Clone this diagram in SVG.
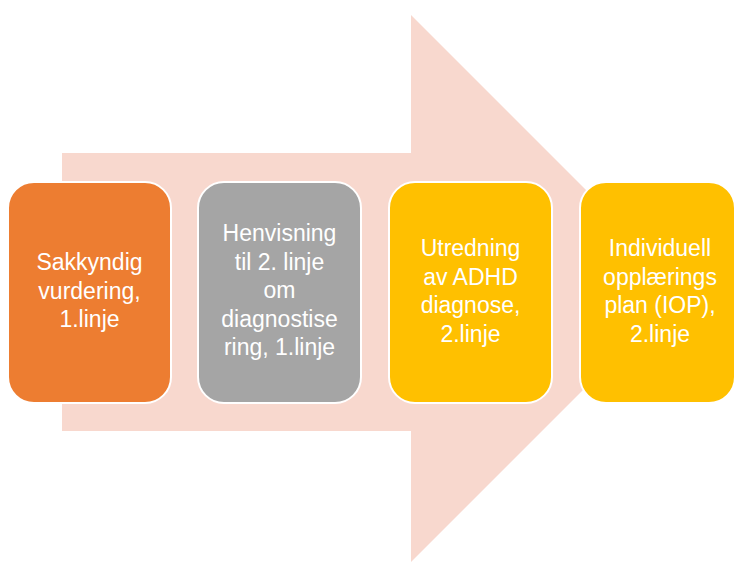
<svg xmlns="http://www.w3.org/2000/svg" width="736" height="562" viewBox="0 0 736 562">
<style>
.box{stroke:#FFFFFF;stroke-width:2}
.t{font-family:"Liberation Sans","Noto Sans",sans-serif;font-size:23px;fill:#FFFFFF;text-anchor:middle}
</style>
<rect width="736" height="562" fill="#FFFFFF"/>
<g id="connectors">
<polygon id="big-arrow" points="62,153 411,153 411,15 684.5,288.5 411,562 411,431 62,431" fill="#F8D8CE"/>
</g>
<g id="node1">
<rect class="box" x="8" y="182" width="163" height="221" rx="26" fill="#ED7D31"/>
<text class="t" x="89.5" y="270">Sakkyndig</text>
<text class="t" x="89.5" y="298.5">vurdering,</text>
<text class="t" x="89.5" y="327">1.linje</text>
</g>
<g id="node2">
<rect class="box" x="198" y="182" width="163" height="221" rx="26" fill="#A5A5A5"/>
<text class="t" x="279.5" y="241">Henvisning</text>
<text class="t" x="279.5" y="269.5">til 2. linje</text>
<text class="t" x="279.5" y="298">om</text>
<text class="t" x="279.5" y="326.5">diagnostise</text>
<text class="t" x="279.5" y="355">ring, 1.linje</text>
</g>
<g id="node3">
<rect class="box" x="389" y="182" width="163" height="221" rx="26" fill="#FFC000"/>
<text class="t" x="470.5" y="256">Utredning</text>
<text class="t" x="470.5" y="284.5">av ADHD</text>
<text class="t" x="470.5" y="313">diagnose,</text>
<text class="t" x="470.5" y="341.5">2.linje</text>
</g>
<g id="node4">
<rect class="box" x="580" y="182" width="155" height="221" rx="26" fill="#FFC000"/>
<text class="t" x="660" y="256">Individuell</text>
<text class="t" x="660" y="284.5">opplærings</text>
<text class="t" x="660" y="313">plan (IOP),</text>
<text class="t" x="660" y="341.5">2.linje</text>
</g>
</svg>
